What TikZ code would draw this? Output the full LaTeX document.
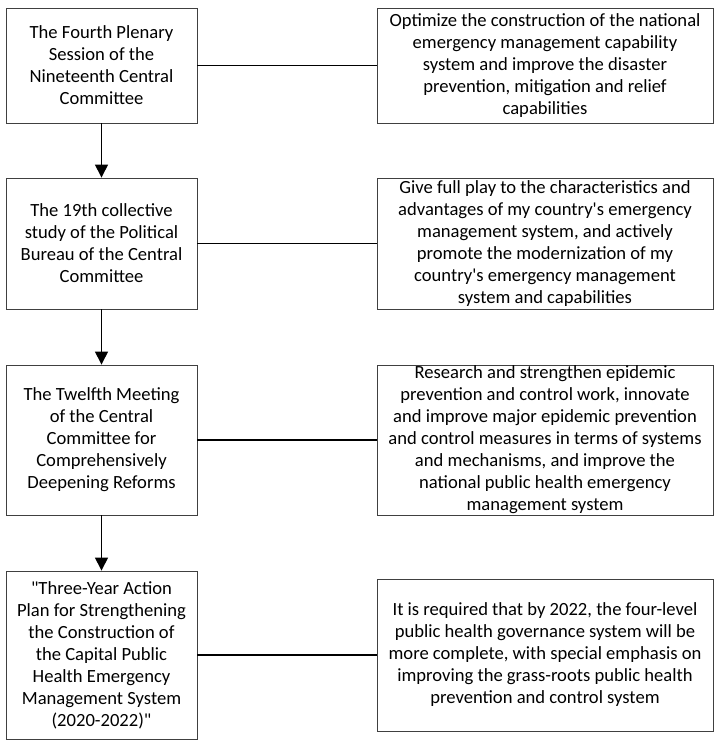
\documentclass[tikz,border=0pt]{standalone}
\usepackage{fontspec}
\setmainfont{Carlito}
\usetikzlibrary{arrows.meta}

\begin{document}
\begin{tikzpicture}[
  x=1pt,y=-1pt,
  font=\fontsize{18.6}{22}\selectfont,
  event/.style={draw=black!75,line width=0.9pt,minimum width=191pt,align=center,inner sep=0pt},
  aim/.style={draw=black!75,line width=0.9pt,minimum width=336pt,align=center,inner sep=0pt},
  flow/.style={line width=1.4pt,-{Triangle[length=13pt,width=13pt]}},
  link/.style={line width=1.4pt}
]
\useasboundingbox (0,0) rectangle (716,741);

\node[event,minimum height=115pt] (e1) at (101.5,65.5) {The Fourth Plenary\\Session of the\\Nineteenth Central\\Committee};
\node[event,minimum height=131pt] (e2) at (101.5,243.5) {The 19th collective\\study of the Political\\Bureau of the Central\\Committee};
\node[event,minimum height=150pt] (e3) at (101.5,440) {The Twelfth Meeting\\of the Central\\Committee for\\Comprehensively\\Deepening Reforms};
\node[event,minimum height=168pt] (e4) at (101.5,655) {\textquotedbl Three-Year Action\\Plan for Strengthening\\the Construction of\\the Capital Public\\Health Emergency\\Management System\\(2020-2022)\textquotedbl};

\node[aim,minimum height=115pt] (a1) at (545,65.5) {Optimize the construction of the national\\emergency management capability\\system and improve the disaster\\prevention, mitigation and relief\\capabilities};
\node[aim,minimum height=131pt] (a2) at (545,243.5) {Give full play to the characteristics and\\advantages of my country\textquotesingle s emergency\\management system, and actively\\promote the modernization of my\\country\textquotesingle s emergency management\\system and capabilities};
\node[aim,minimum height=150pt] (a3) at (545,440) {Research and strengthen epidemic\\prevention and control work, innovate\\and improve major epidemic prevention\\and control measures in terms of systems\\and mechanisms, and improve the\\national public health emergency\\management system};
\node[aim,minimum height=152pt] (a4) at (545,655) {It is required that by 2022, the four-level\\public health governance system will be\\more complete, with special emphasis on\\improving the grass-roots public health\\prevention and control system};

\foreach \i/\j in {1/2,2/3,3/4}{
  \draw[flow] (e\i) -- (e\j);
}
\foreach \i in {1,...,4}{
  \draw[link] (e\i) -- (a\i);
}
\end{tikzpicture}
\end{document}
